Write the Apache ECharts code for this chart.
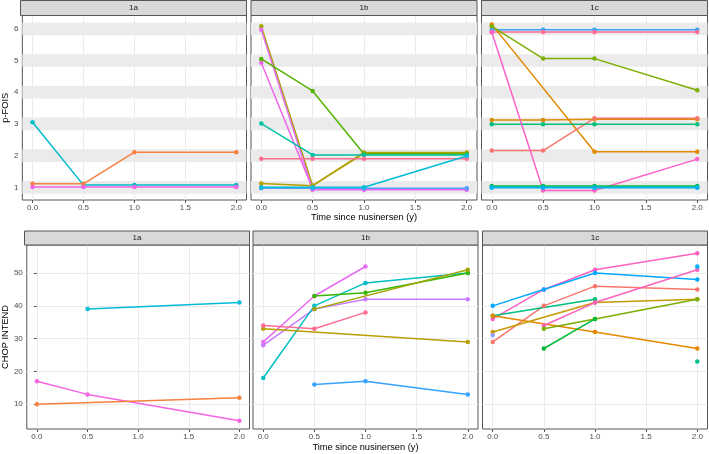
<!DOCTYPE html>
<html>
<head>
<meta charset="utf-8">
<script src="https://cdn.jsdelivr.net/npm/echarts@6/dist/echarts.min.js"></script>
<style>
html,body{margin:0;padding:0;background:#fff;}
#c{width:709px;height:454px;}
</style>
</head>
<body>
<div id="c"></div>
<script>
// ---------- data ----------
const times = [0, 0.5, 1, 2];
const panels = ['1a', '1b', '1c'];
const xTicks = [0, 0.5, 1, 1.5, 2];
const foisTicks = [1, 2, 3, 4, 5, 6];
const chopTicks = [10, 20, 30, 40, 50];
const foisBands = [1, 2, 3, 4, 5, 6];

// p-FOIS, values at times 0, 0.5, 1, 2
const fois1a = [
  [3.05, 1.07, 1.07, 1.07],
  [1.11, 1.11, 2.11, 2.11],
  [1.01, 1.01, 1.01, 1.01]
];
const fois1aColors = ['#00BCC8', '#F7813F', '#F564E3'];

const fois1b = [
  [6.08, 1.05, 2.10, 2.10],
  [1.12, 1.05, 2.07, 2.07],
  [5.97, 0.92, 0.92, 0.92],
  [4.93, 0.95, 0.95, 0.95],
  [5.05, 4.04, 2.05, 2.05],
  [3.01, 2.02, 2.02, 2.02],
  [1.90, 1.90, 1.90, 1.90],
  [0.97, 0.97, 0.97, 0.97],
  [1.00, 1.00, 1.00, 1.99]
];
const fois1bColors = ['#A3A500', '#B79F00', '#E76BF3', '#F066EA', '#53B400', '#00C1A3', '#FF6C91', '#529EFF', '#00BCD8'];

const fois1c = [
  [5.97, 5.97, 5.97, 5.97],
  [5.90, 5.90, 5.90, 5.90],
  [6.14, null, 2.12, 2.12],
  [6.08, 5.06, 5.06, 4.06],
  [3.12, 3.12, 3.15, 3.15],
  [2.16, 2.16, 3.18, 3.18],
  [2.99, 2.99, 2.99, 2.99],
  [5.89, 0.90, 0.90, 1.89],
  [1.04, 1.04, 1.04, 1.04],
  [1.01, 1.01, 1.01, 1.01],
  [0.99, 0.99, 0.99, 0.99]
];
const fois1cColors = ['#35A2FF', '#FF6C91', '#E38900', '#7CAE00', '#DB8E00', '#F8766D', '#00BF7D', '#FF61C9', '#00BA38', '#00C1A3', '#00B0F6'];

// CHOP INTEND
const chop1a = [
  [null, 39, null, 41],
  [17, 13, null, 5],
  [10, null, null, 12]
];
const chop1aColors = ['#00BCD8', '#F564E3', '#F7813F'];

const chop1b = [
  [29, 43, 52, null],
  [28, 39, 42, 42],
  [18, 40, 47, 50],
  [null, 43, 44, 50],
  [null, 39, null, 51],
  [33, null, null, 29],
  [34, 33, 38, null],
  [null, 16, 17, 13]
];
const chop1bColors = ['#E76BF3', '#C77CFF', '#00BFC4', '#39B600', '#A3A500', '#B79F00', '#FF6C91', '#35A2FF'];

const chop1c = [
  [36, 45, 51, 56],
  [40, 45, 50, 48],
  [29, 40, 46, 45],
  [37, null, 42, null],
  [37, null, 32, 27],
  [32, null, 41, 42],
  [null, 34, 41, 51],
  [null, 33, 36, 42],
  [null, 27, 36, null],
  [null, null, null, 23],
  [null, null, null, 52],
  [31, null, null, null]
];
const chop1cColors = ['#FF61C3', '#00A9FF', '#F8766D', '#00BF7D', '#E58700', '#C49A00', '#FF62BC', '#7CAE00', '#00BA38', '#00C08B', '#00B0F6', '#9A9CFF'];

// ---------- layout ----------
const FONT = 'Liberation Sans, Arial, sans-serif';
const rowTop = [15.5, 245];
const rowH = [184.5, 184];
const colLeft = [[20.5, 251, 481.5], [24.5, 253, 482.5]];
const colW = [226, 225];
const stripH = [15, 14];
const border = '#555';

const rows = [
  { name: 'p-FOIS', data: [fois1a, fois1b, fois1c], colors: [fois1aColors, fois1bColors, fois1cColors],
    min: 0.6, max: 6.42, ticks: foisTicks, ysplit: false, nameGap: 10 },
  { name: 'CHOP INTEND', data: [chop1a, chop1b, chop1c], colors: [chop1aColors, chop1bColors, chop1cColors],
    min: 2.45, max: 58.55, ticks: chopTicks, ysplit: true, nameGap: 15 }
];

const grid = [], xAxis = [], yAxis = [], series = [], graphic = [];
rows.forEach((row, r) => {
  panels.forEach((p, c) => {
    const idx = r * 3 + c;
    grid.push({ left: colLeft[r][c], top: rowTop[r], width: colW[r], height: rowH[r],
      show: true, borderColor: border, borderWidth: 1, backgroundColor: '#fff' });
    xAxis.push({
      type: 'value', gridIndex: idx, min: -0.1, max: 2.1,
      name: c === 1 ? 'Time since nusinersen (y)' : '',
      nameLocation: 'middle', nameGap: r === 0 ? 13 : 14,
      nameTextStyle: { fontFamily: FONT, fontSize: 9.3, color: '#000' },
      axisLine: { show: false },
      axisTick: { show: true, length: 3, lineStyle: { color: border }, customValues: xTicks },
      axisLabel: { fontFamily: FONT, fontSize: 8, color: '#4D4D4D', margin: 4,
        customValues: xTicks, formatter: v => Number(v).toFixed(1) },
      splitLine: { show: true, lineStyle: { color: '#EBEBEB', width: 1 } }
    });
    yAxis.push({
      type: 'value', gridIndex: idx, min: row.min, max: row.max,
      name: c === 0 ? row.name : '', nameLocation: 'middle', nameGap: row.nameGap,
      nameTextStyle: { fontFamily: FONT, fontSize: 9.3, color: '#000' },
      axisLine: { show: false },
      axisTick: { show: c === 0, length: 3, lineStyle: { color: border }, customValues: row.ticks },
      axisLabel: { show: c === 0, fontFamily: FONT, fontSize: 8, color: '#4D4D4D', margin: 4,
        customValues: row.ticks },
      splitLine: { show: row.ysplit, lineStyle: { color: '#EBEBEB', width: 1 } }
    });
    if (r === 0) {
      series.push({
        type: 'line', xAxisIndex: idx, yAxisIndex: idx, data: [], z: 1, silent: true,
        markArea: { silent: true, itemStyle: { color: '#EBEBEB' },
          data: foisBands.map(b => [{ yAxis: b - 0.2 }, { yAxis: b + 0.2 }]) }
      });
    }
    row.data[c].forEach((vals, i) => {
      const col = row.colors[c][i];
      series.push({
        type: 'line', xAxisIndex: idx, yAxisIndex: idx, z: 3,
        data: times.map((t, j) => [t, vals[j]]),
        connectNulls: true, symbol: 'circle', symbolSize: 4.5, showAllSymbol: true,
        lineStyle: { width: 1.5, color: col }, itemStyle: { color: col },
        silent: true
      });
    });
    graphic.push({
      type: 'rect', shape: { x: colLeft[r][c], y: rowTop[r] - stripH[r], width: colW[r], height: stripH[r] },
      style: { fill: '#D9D9D9', stroke: border, lineWidth: 1 }, z: 10
    });
    graphic.push({
      type: 'text', x: colLeft[r][c] + colW[r] / 2, y: rowTop[r] - stripH[r] / 2,
      style: { text: p, fontFamily: FONT, fontSize: 8, fill: '#1A1A1A', align: 'center', verticalAlign: 'middle' }, z: 11
    });
  });
});

const chart = echarts.init(document.getElementById('c'), null, { renderer: 'canvas' });
chart.setOption({ animation: false, backgroundColor: '#fff', grid, xAxis, yAxis, series, graphic });
</script>
</body>
</html>
